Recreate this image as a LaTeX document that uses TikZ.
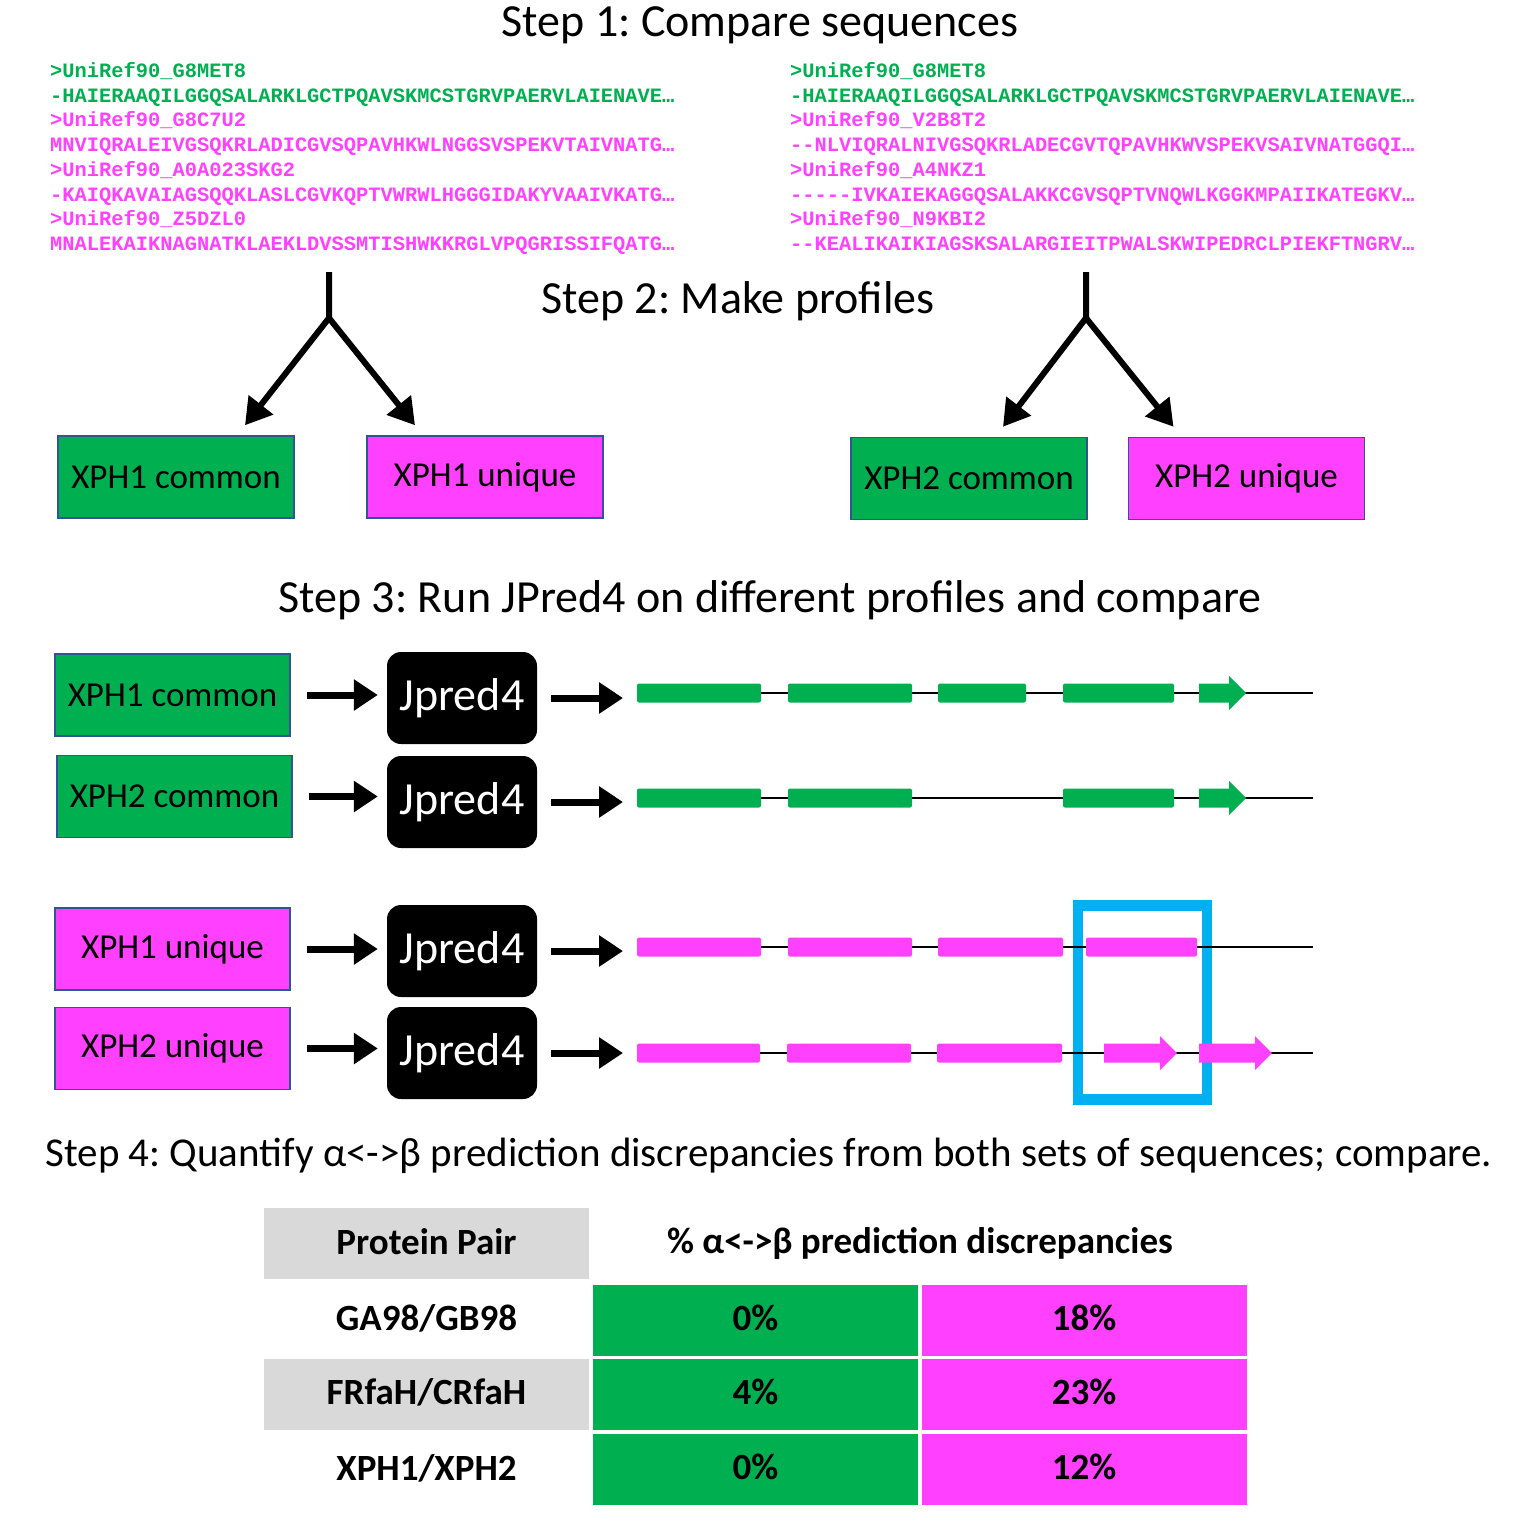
\documentclass[tikz,border=0pt]{standalone}
\usepackage{fontspec}
\setmainfont{Carlito}
\newfontfamily\seqfont{Liberation Mono}
\usepackage{xcolor}
\usepackage{tikz}
\usetikzlibrary{positioning,arrows.meta,calc}
\frenchspacing

\definecolor{xgreen}{HTML}{00B050}
\definecolor{xmag}{HTML}{FF40FF}
\definecolor{xblue}{HTML}{00B0F0}
\definecolor{xedge}{HTML}{2F5597}
\definecolor{xgray}{HTML}{D9D9D9}

% strand arrow: colour, start, head base, tip, y
\newcommand{\strandarrow}[5]{%
  \fill[#1] (#2,{#5-9.5}) -- (#3,{#5-9.5}) -- (#3,{#5-17}) -- (#4,#5)
    -- (#3,{#5+17}) -- (#3,{#5+9.5}) -- (#2,{#5+9.5}) -- cycle;}

\begin{document}
\begin{tikzpicture}[x=1pt,y=-1pt,
  every node/.style={inner sep=0pt},
  steptitle/.style={font=\fontsize{46}{55}\selectfont},
  seq/.style={anchor=base west, font=\seqfont\bfseries\fontsize{20.4}{24}\selectfont},
  prof/.style={draw=xedge, line width=1.5pt, minimum width=236pt, minimum height=82pt,
    font=\fontsize{35}{42}\selectfont},
  com/.style={prof, fill=xgreen},
  uni/.style={prof, fill=xmag},
  jpred/.style={fill=black, rounded corners=14pt, minimum width=150pt, minimum height=92pt,
    text=white, font=\fontsize{46}{55}\selectfont},
  fork/.style={line width=6pt, -{Triangle[length=26pt,width=30pt]}},
  flow/.style={line width=7pt, -{Triangle[length=24pt,width=30pt]}},
  track/.style={line width=2.5pt},
  helixg/.style={fill=xgreen, rounded corners=2pt},
  helixm/.style={fill=xmag, rounded corners=2pt},
  cell/.style={minimum width=325pt, minimum height=71pt, font=\bfseries\fontsize{37}{44}\selectfont}]
  \useasboundingbox (0,0) rectangle (1524,1524);

  % step 1
  \node[steptitle] (s1) at (760,25) {Step 1: Compare sequences};
  \foreach \c/\t [count=\i] in {
      xgreen/>UniRef90\_G8MET8,
      xgreen/-HAIERAAQILGGQSALARKLGCTPQAVSKMCSTGRVPAERVLAIENAVE…,
      xmag/>UniRef90\_G8C7U2,
      xmag/MNVIQRALEIVGSQKRLADICGVSQPAVHKWLNGGSVSPEKVTAIVNATG…,
      xmag/>UniRef90\_A0A023SKG2,
      xmag/-KAIQKAVAIAGSQQKLASLCGVKQPTVWRWLHGGGIDAKYVAAIVKATG…,
      xmag/>UniRef90\_Z5DZL0,
      xmag/MNALEKAIKNAGNATKLAEKLDVSSMTISHWKKRGLVPQGRISSIFQATG…}
    \node[seq, text=\c] (seqL\i) at (50,{52.8+24.7*\i}) {\t};
  \foreach \c/\t [count=\i] in {
      xgreen/>UniRef90\_G8MET8,
      xgreen/-HAIERAAQILGGQSALARKLGCTPQAVSKMCSTGRVPAERVLAIENAVE…,
      xmag/>UniRef90\_V2B8T2,
      xmag/--NLVIQRALNIVGSQKRLADECGVTQPAVHKWVSPEKVSAIVNATGGQI…,
      xmag/>UniRef90\_A4NKZ1,
      xmag/-----IVKAIEKAGGQSALAKKCGVSQPTVNQWLKGGKMPAIIKATEGKV…,
      xmag/>UniRef90\_N9KBI2,
      xmag/--KEALIKAIKIAGSKSALARGIEITPWALSKWIPEDRCLPIEKFTNGRV…}
    \node[seq, text=\c] (seqR\i) at (790,{52.8+24.7*\i}) {\t};

  % step 2
  \node[steptitle] (s2) at (738,301) {Step 2: Make profiles};
  \node[com] (xc1) at (176,477)    {XPH1 common};
  \node[uni] (xu1) at (485,477)    {XPH1 unique};
  \node[com] (xc2) at (969,478.5)  {XPH2 common};
  \node[uni] (xu2) at (1246.5,478.5) {XPH2 unique};
  \coordinate (f1top) at (329,272);
  \coordinate (f1)    at (329,318);
  \coordinate (f2top) at (1086,272);
  \coordinate (f2)    at (1086,318);
  \draw[fork] (f1top) -- (f1) -- ($(xc1.north)+(69,-10)$);
  \draw[fork] (f1) -- ($(xu1.north)+(-70,-10)$);
  \draw[fork] (f2top) -- (f2) -- ($(xc2.north)+(34,-10)$);
  \draw[fork] (f2) -- ($(xu2.north)+(-73,-10)$);

  % step 3
  \node[steptitle] (s3) at (770,600) {Step 3: Run JPred4 on different profiles and compare};
  \node[com, minimum width=235pt] (pc1) at (172.5,695)  {XPH1 common};
  \node[com, minimum width=235pt] (pc2) at (174.5,796.5) {XPH2 common};
  \node[uni, minimum width=235pt] (pu1) at (172.5,949)  {XPH1 unique};
  \node[uni, minimum width=235pt] (pu2) at (172.5,1048.5) {XPH2 unique};
  \node[jpred] (jp1) at (462,698)  {Jpred4};
  \node[jpred] (jp2) at (462,802)  {Jpred4};
  \node[jpred] (jp3) at (462,951)  {Jpred4};
  \node[jpred] (jp4) at (462,1053) {Jpred4};
  \coordinate (t1) at (637,693);  \coordinate (t1e) at (1313,693);
  \coordinate (t2) at (637,798);  \coordinate (t2e) at (1313,798);
  \coordinate (t3) at (637,947);  \coordinate (t3e) at (1313,947);
  \coordinate (t4) at (637,1053); \coordinate (t4e) at (1313,1053);
  \foreach \p/\j/\t in {pc1/jp1/t1, pc2/jp2/t2, pu1/jp3/t3, pu2/jp4/t4} {
    \draw[flow, shorten <=16pt, shorten >=9pt] (\p.east) -- (\p.east -| \j.west);
    \draw[flow, shorten <=14pt, shorten >=14pt] (\j.east) -- (\j.east -| \t);
  }
  % highlight
  \draw[xblue, line width=10.5pt] (1078,905.5) rectangle (1207,1099.5);
  % tracks
  \draw[track] (t1) -- (t1e);
  \foreach \a/\b in {637/761, 788/912, 938/1026, 1063/1174}
    \fill[helixg] (\a,683.5) rectangle (\b,702.5);
  \strandarrow{xgreen}{1199}{1229}{1246}{693}
  \draw[track] (t2) -- (t2e);
  \foreach \a/\b in {637/761, 788/912, 1063/1174}
    \fill[helixg] (\a,788.5) rectangle (\b,807.5);
  \strandarrow{xgreen}{1199}{1229}{1246}{798}
  \draw[track] (t3) -- (t3e);
  \foreach \a/\b in {637/761, 788/912, 938/1063, 1086/1197}
    \fill[helixm] (\a,937.5) rectangle (\b,956.5);
  \draw[track] (t4) -- (t4e);
  \foreach \a/\b in {637/760, 787/911, 937/1062}
    \fill[helixm] (\a,1043.5) rectangle (\b,1062.5);
  \strandarrow{xmag}{1104}{1160}{1177}{1053}
  \strandarrow{xmag}{1199}{1255}{1272}{1053}

  % step 4
  \node[steptitle, font=\fontsize{41}{49}\selectfont] (s4) at (769,1156)
    {Step 4: Quantify α<->β prediction discrepancies from both sets of sequences; compare.};
  \node[cell, fill=xgray] (hpair) at (426.5,1243) {\raisebox{3pt}{Protein Pair}};
  \node[cell, minimum width=655pt] (hdisc) at (920,1243) {\% α<->β prediction discrepancies};
  \node[cell] (p1) at (426.5,1320.5) {\raisebox{5pt}{GA98/GB98}};
  \node[cell, fill=xgreen] (a1) at (755.5,1320.5) {\raisebox{5pt}{0\%}};
  \node[cell, fill=xmag]   (b1) at (1084,1320.5) {\raisebox{5pt}{18\%}};
  \node[cell, fill=xgray] (p2) at (426.5,1394) {\raisebox{4pt}{FRfaH/CRfaH}};
  \node[cell, fill=xgreen] (a2) at (755.5,1394) {\raisebox{4pt}{4\%}};
  \node[cell, fill=xmag]   (b2) at (1084,1394) {\raisebox{4pt}{23\%}};
  \node[cell] (p3) at (426.5,1469) {\raisebox{4pt}{XPH1/XPH2}};
  \node[cell, fill=xgreen] (a3) at (755.5,1469) {\raisebox{4pt}{0\%}};
  \node[cell, fill=xmag]   (b3) at (1084,1469) {\raisebox{4pt}{12\%}};
\end{tikzpicture}
\end{document}
